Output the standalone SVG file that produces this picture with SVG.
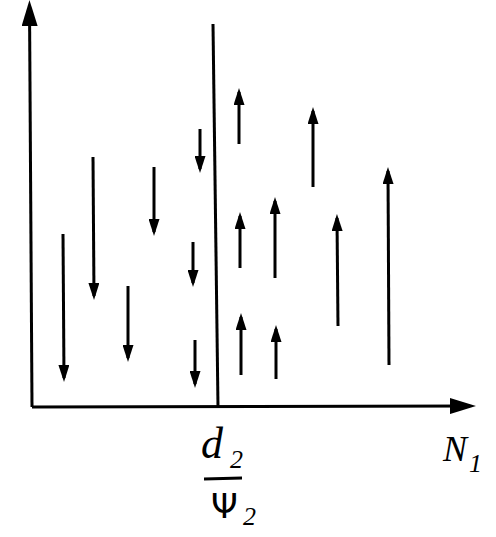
<svg xmlns="http://www.w3.org/2000/svg" width="496" height="537" viewBox="0 0 496 537">
<style>
.ln{stroke:#000;stroke-width:3;fill:none;stroke-linecap:butt}
.ax{stroke:#000;stroke-width:3;fill:none}
.lbl{font-family:"Liberation Serif",serif;font-style:italic;fill:#000}
.gr{font-family:"DejaVu Sans",sans-serif;fill:#000}
</style>
<defs>
<marker id="ah" markerUnits="userSpaceOnUse" markerWidth="17" markerHeight="11" refX="13" refY="5.5" orient="auto" viewBox="0 0 17 11">
<path d="M0,0 L17,5.5 L0,11 z" fill="#000"/>
</marker>
<marker id="axh" markerUnits="userSpaceOnUse" markerWidth="26" markerHeight="16" refX="20" refY="8" orient="auto" viewBox="0 0 26 16">
<path d="M0,0 L26,8 L0,16 z" fill="#000"/>
</marker>
</defs>
<g id="connectors">
<line class="ax" x1="32" y1="407" x2="29.5" y2="6" marker-end="url(#axh)"/>
<line class="ax" x1="32" y1="407" x2="470" y2="406" marker-end="url(#axh)"/>
<line class="ln" x1="213" y1="24" x2="218" y2="407"/>
<line class="ln" x1="63" y1="234" x2="64" y2="378" marker-end="url(#ah)"/>
<line class="ln" x1="93" y1="157" x2="94" y2="296" marker-end="url(#ah)"/>
<line class="ln" x1="128" y1="286" x2="128" y2="358" marker-end="url(#ah)"/>
<line class="ln" x1="154" y1="167" x2="154" y2="232" marker-end="url(#ah)"/>
<line class="ln" x1="200" y1="129" x2="200" y2="169" marker-end="url(#ah)"/>
<line class="ln" x1="193" y1="242" x2="193" y2="283" marker-end="url(#ah)"/>
<line class="ln" x1="195" y1="340" x2="195" y2="384" marker-end="url(#ah)"/>
<line class="ln" x1="239" y1="144" x2="239" y2="92" marker-end="url(#ah)"/>
<line class="ln" x1="313" y1="187" x2="313" y2="111" marker-end="url(#ah)"/>
<line class="ln" x1="389" y1="365" x2="388" y2="171" marker-end="url(#ah)"/>
<line class="ln" x1="275" y1="278" x2="275" y2="201" marker-end="url(#ah)"/>
<line class="ln" x1="240" y1="268" x2="240" y2="216" marker-end="url(#ah)"/>
<line class="ln" x1="338" y1="326" x2="337" y2="218" marker-end="url(#ah)"/>
<line class="ln" x1="241" y1="375" x2="241" y2="317" marker-end="url(#ah)"/>
<line class="ln" x1="276" y1="379" x2="276" y2="329" marker-end="url(#ah)"/>
</g>
<g id="label-fraction">
<text class="lbl" x="201" y="458" font-size="44">d</text>
<text class="lbl" x="230" y="468" font-size="26">2</text>
<line class="ln" x1="204" y1="479" x2="242" y2="478"/>
<text class="gr" x="211" y="518" font-size="34">Ψ</text>
<text class="lbl" x="243" y="525" font-size="26">2</text>
</g>
<g id="label-n1">
<text class="lbl" x="443" y="461" font-size="36">N</text>
<text class="lbl" x="469" y="472" font-size="26">1</text>
</g>
</svg>
